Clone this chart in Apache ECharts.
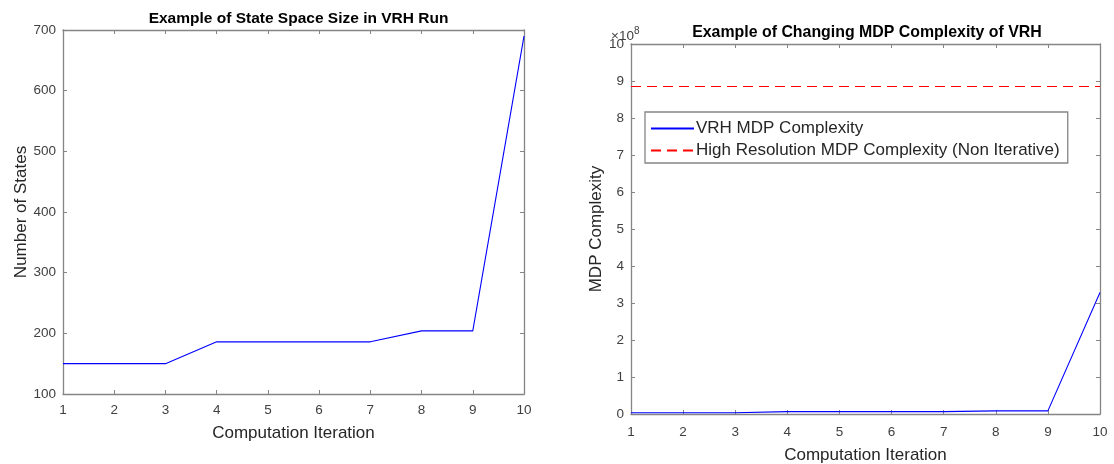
<!DOCTYPE html>
<html>
<head>
<meta charset="utf-8">
<script src="https://cdn.jsdelivr.net/npm/echarts@6/dist/echarts.min.js"></script>
<style>
  html, body { margin: 0; padding: 0; background: #fff; }
  #chart { width: 1114px; height: 464px; }
</style>
</head>
<body>
<div id="chart"></div>
<script>
// Computation iterations (x axis of both panels)
const iterations = [1, 2, 3, 4, 5, 6, 7, 8, 9, 10];
// Number of states per iteration of the VRH run
const stateCounts = [150, 150, 150, 186, 186, 186, 186, 204, 204, 690];
// MDP complexity of the VRH run per iteration
const vrhComplexity = [3.375e6, 3.375e6, 3.375e6, 6.43e6, 6.43e6, 6.43e6, 6.43e6, 8.49e6, 8.49e6, 3.285e8];
// Complexity of the non-iterative high resolution MDP (constant)
const highResComplexity = 8.85e8;

const leftTitle = 'Example of State Space Size in VRH Run';
const rightTitle = 'Example of Changing MDP Complexity of VRH';
const xName = 'Computation Iteration';
const leftYName = 'Number of States';
const rightYName = 'MDP Complexity';
const legendNames = ['VRH MDP Complexity', 'High Resolution MDP Complexity (Non Iterative)'];

const FONT = '"Liberation Sans", Arial, Helvetica, sans-serif';
const AXIS_GRAY = '#858585';
const LABEL_GRAY = '#404040';
const NAME_GRAY = '#262626';
const TICK_FONT = 13.5;
const NAME_FONT = 17;

function pairs(xs, ys) { return xs.map((x, i) => [x, ys[i]]); }

function xAxisPair(gridIndex, nameGap, margin) {
  const base = {
    type: 'value', gridIndex, min: 1, max: 10, interval: 1,
    axisLine: { show: true, onZero: false, lineStyle: { color: AXIS_GRAY, width: 1.3 } },
    axisTick: { show: true, inside: true, length: 4, lineStyle: { color: AXIS_GRAY, width: 1 } },
    splitLine: { show: false }
  };
  return [
    Object.assign({}, base, {
      position: 'bottom',
      name: xName, nameLocation: 'middle', nameGap,
      nameTextStyle: { fontFamily: FONT, fontSize: NAME_FONT, color: NAME_GRAY },
      axisLabel: { show: true, margin, fontFamily: FONT, fontSize: TICK_FONT, color: LABEL_GRAY,
                   showMinLabel: true, showMaxLabel: true }
    }),
    Object.assign({}, base, { position: 'top', axisLabel: { show: false } })
  ];
}

function yAxisPair(gridIndex, min, max, interval, name, nameGap, formatter) {
  const base = {
    type: 'value', gridIndex, min, max, interval,
    axisLine: { show: true, onZero: false, lineStyle: { color: AXIS_GRAY, width: 1.3 } },
    axisTick: { show: true, inside: true, length: 4, lineStyle: { color: AXIS_GRAY, width: 1 } },
    splitLine: { show: false }
  };
  return [
    Object.assign({}, base, {
      position: 'left',
      name, nameLocation: 'middle', nameGap, nameRotate: 90,
      nameTextStyle: { fontFamily: FONT, fontSize: NAME_FONT, color: NAME_GRAY },
      axisLabel: { show: true, margin: 7, fontFamily: FONT, fontSize: TICK_FONT, color: LABEL_GRAY, formatter }
    }),
    Object.assign({}, base, { position: 'right', axisLabel: { show: false } })
  ];
}

const chart = echarts.init(document.getElementById('chart'), null, { renderer: 'canvas' });

chart.setOption({
  animation: false,
  backgroundColor: '#ffffff',
  title: [
    { text: leftTitle, left: 293.5, top: 6, textAlign: 'center',
      textStyle: { fontFamily: FONT, fontSize: 15.5, fontWeight: 'bold', color: '#000' } },
    { text: rightTitle, left: 862, top: 20, textAlign: 'center',
      textStyle: { fontFamily: FONT, fontSize: 15.9, fontWeight: 'bold', color: '#000' } }
  ],
  grid: [
    { left: 63, right: 1114 - 524, top: 30, bottom: 464 - 394, containLabel: false, outerBoundsMode: 'none' },
    { left: 631, right: 1114 - 1100, top: 44, bottom: 464 - 414, containLabel: false, outerBoundsMode: 'none' }
  ],
  xAxis: [].concat(xAxisPair(0, 31, 9), xAxisPair(1, 33, 11)),
  yAxis: [].concat(
    yAxisPair(0, 100, 700, 100, leftYName, 32),
    yAxisPair(1, 0, 1e9, 1e8, rightYName, 23, v => String(Math.round(v / 1e8)))
  ),
  legend: {
    data: legendNames,
    orient: 'vertical',
    left: 645, top: 112,
    padding: [8, 8, 4, 5],
    itemGap: 5,
    itemWidth: 43,
    itemHeight: 18,
    borderColor: AXIS_GRAY,
    borderWidth: 1.3,
    backgroundColor: '#fff',
    itemStyle: { opacity: 0 },
    textStyle: { fontFamily: FONT, fontSize: NAME_FONT, color: NAME_GRAY, padding: [0, 0, 0, -3] }
  },
  graphic: [
    {
      type: 'text', left: 611, top: 26,
      style: {
        text: '{x|×10}{s|8}',
        rich: {
          x: { fontFamily: FONT, fontSize: 13.5, fill: LABEL_GRAY, verticalAlign: 'bottom' },
          s: { fontFamily: FONT, fontSize: 10, fill: LABEL_GRAY, verticalAlign: 'top', padding: [0, 0, 7, 0] }
        }
      }
    }
  ],
  series: [
    {
      type: 'line', xAxisIndex: 0, yAxisIndex: 0,
      data: pairs(iterations, stateCounts),
      symbol: 'none', lineStyle: { color: '#0000ff', width: 1.1 }, itemStyle: { color: '#0000ff' }
    },
    {
      name: legendNames[0], type: 'line', xAxisIndex: 2, yAxisIndex: 2,
      data: pairs(iterations, vrhComplexity),
      symbol: 'none', lineStyle: { color: '#0000ff', width: 1.1 }, itemStyle: { color: '#0000ff' }
    },
    {
      name: legendNames[1], type: 'line', xAxisIndex: 2, yAxisIndex: 2,
      data: [[iterations[0], highResComplexity], [iterations[iterations.length - 1], highResComplexity]],
      symbol: 'none',
      lineStyle: { color: '#ff0000', width: 1.1, type: [10, 6] }, itemStyle: { color: '#ff0000' }
    }
  ]
});
</script>
</body>
</html>
